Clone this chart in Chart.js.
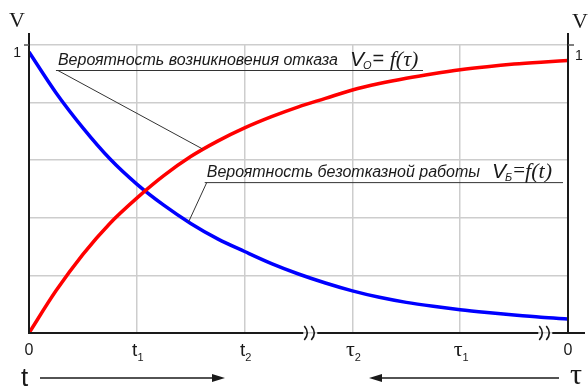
<!DOCTYPE html>
<html>
<head>
<meta charset="utf-8">
<script src="https://cdn.jsdelivr.net/npm/chart.js@4/dist/chart.umd.min.js"></script>
<style>
  html, body { margin: 0; padding: 0; background: #fff; }
  #wrap { width: 588px; height: 387px; }
</style>
</head>
<body>
<div id="wrap"><canvas id="c" width="588" height="387"></canvas></div>
<script>
// Time positions along the axis (grid units: 0, t1, t2, τ2, τ1, 0)
const positions = [0, 0.25, 0.5, 0.75, 1, 1.25, 1.5, 1.75, 2, 2.25, 2.5,
                   2.75, 3, 3.25, 3.5, 3.75, 4, 4.25, 4.5, 4.75, 5];
// Probability of failure-free operation V_Б = f(t)
const reliability = [1, 0.855, 0.73, 0.62, 0.53, 0.455, 0.39, 0.335, 0.29, 0.247, 0.21,
                     0.178, 0.15, 0.127, 0.109, 0.095, 0.083, 0.073, 0.064, 0.056, 0.05];
// Probability of failure occurrence V_O = f(τ)
const failure = [0, 0.15, 0.28, 0.39, 0.48, 0.56, 0.628, 0.683, 0.73, 0.77, 0.805,
                 0.835, 0.865, 0.888, 0.907, 0.923, 0.937, 0.948, 0.957, 0.964, 0.97];
// Axis tick labels: main symbol and subscript
const tickMain = ['0', 't', 't', 'τ', 'τ', '0'];
const tickSub = ['', '1', '2', '2', '1', ''];
const yTop = 1.025;
const gridValues = [0, 0.205, 0.41, 0.615, 0.82, 1.025];
const breakPoints = [2.6, 4.78];

const SANS = '"Liberation Sans", Arial, sans-serif';
const SERIF = '"Liberation Serif", "Times New Roman", serif';

function toXY(ys) { return positions.map((x, i) => ({ x: x, y: ys[i] })); }

const decorations = {
  id: 'decorations',
  afterDraw(chart) {
    const ctx = chart.ctx;
    const xs = chart.scales.x, ys = chart.scales.y;
    const a = chart.chartArea;
    const L = a.left, R = a.right, T = a.top, B = a.bottom;
    ctx.save();

    // vertical axes
    ctx.strokeStyle = '#1a1a1a';
    ctx.lineWidth = 2;
    ctx.beginPath();
    ctx.moveTo(L, T - 12); ctx.lineTo(L, B + 1);
    ctx.moveTo(R, T - 12); ctx.lineTo(R, B + 1);
    ctx.stroke();
    // small outward ticks at the top gridline
    ctx.lineWidth = 1.5;
    ctx.strokeStyle = '#555';
    ctx.beginPath();
    ctx.moveTo(L - 5, T); ctx.lineTo(L, T);
    ctx.moveTo(R, T); ctx.lineTo(R + 6, T);
    ctx.stroke();

    // bottom axis with break marks
    ctx.strokeStyle = '#1a1a1a';
    ctx.lineWidth = 2;
    const gaps = breakPoints.map(v => xs.getPixelForValue(v));
    let start = L - 1;
    ctx.beginPath();
    gaps.forEach(g => {
      ctx.moveTo(start, B); ctx.lineTo(g - 6, B);
      start = g + 8;
    });
    ctx.moveTo(start, B); ctx.lineTo(R + 17, B);
    ctx.stroke();
    ctx.lineWidth = 1.6;
    gaps.forEach(g => {
      [g - 5, g + 2].forEach(cx => {
        ctx.beginPath();
        ctx.moveTo(cx, B - 7);
        ctx.quadraticCurveTo(cx + 6, B, cx, B + 7);
        ctx.stroke();
      });
    });

    // x tick labels
    ctx.fillStyle = '#1a1a1a';
    ctx.textBaseline = 'alphabetic';
    for (let i = 0; i < tickMain.length; i++) {
      const px = xs.getPixelForValue(i);
      const isTau = tickMain[i] === 'τ';
      const isZero = tickMain[i] === '0';
      const mainFont = isTau ? ('22px ' + SERIF) : (isZero ? '16px ' : '19px ') + SANS;
      ctx.font = mainFont;
      const mw = ctx.measureText(tickMain[i]).width;
      ctx.font = '11px ' + SANS;
      const sw = tickSub[i] ? ctx.measureText(tickSub[i]).width : 0;
      const x0 = px - (mw + sw) / 2 + (tickSub[i] ? 1 : 0);
      ctx.font = mainFont;
      ctx.textAlign = 'left';
      ctx.fillText(tickMain[i], x0, B + (isZero ? 22 : 23));
      if (tickSub[i]) {
        ctx.font = '11px ' + SANS;
        ctx.fillText(tickSub[i], x0 + mw, B + 28);
      }
    }

    // direction arrows
    ctx.strokeStyle = '#1a1a1a';
    ctx.fillStyle = '#1a1a1a';
    ctx.lineWidth = 1.5;
    const ay = B + 45;
    ctx.beginPath(); ctx.moveTo(40, ay); ctx.lineTo(216, ay); ctx.stroke();
    ctx.beginPath(); ctx.moveTo(225, ay); ctx.lineTo(212, ay - 4); ctx.lineTo(212, ay + 4); ctx.closePath(); ctx.fill();
    ctx.beginPath(); ctx.moveTo(378, ay); ctx.lineTo(559, ay); ctx.stroke();
    ctx.beginPath(); ctx.moveTo(369, ay); ctx.lineTo(382, ay - 4); ctx.lineTo(382, ay + 4); ctx.closePath(); ctx.fill();
    ctx.font = '26px ' + SANS;
    ctx.textAlign = 'left';
    ctx.fillText('t', 21, ay + 8);
    ctx.font = '30px ' + SERIF;
    ctx.fillText('τ', 570, ay + 6);

    // axis titles and "1" labels
    ctx.font = '22px ' + SERIF;
    ctx.fillText('V', 9, 27);
    ctx.fillText('V', 572, 28);
    ctx.font = '14px ' + SANS;
    const y1 = ys.getPixelForValue(1);
    ctx.textAlign = 'right';
    ctx.fillText('1', 21, y1 + 5);
    ctx.textAlign = 'left';
    ctx.fillText('1', 575, y1 + 8);

    // annotations with leader lines
    const notes = [
      { text: 'Вероятность возникновения отказа', sub: 'O', eq: '= ', fn: 'f(τ)', eqSerif: false,
        at: { x: 0.25, y: 0.936 }, lineEnd: 423, target: { x: 1.61, y: 0.655 } },
      { text: 'Вероятность безотказной работы', sub: 'Б', eq: '=', fn: 'f(t)', eqSerif: true,
        at: { x: 1.63, y: 0.537 }, lineEnd: 563, target: { x: 1.48, y: 0.395 } }
    ];
    notes.forEach(n => {
      const ux = xs.getPixelForValue(n.at.x);
      const uy = ys.getPixelForValue(n.at.y);
      ctx.fillStyle = '#1a1a1a';
      ctx.textAlign = 'left';
      ctx.font = 'italic 16px ' + SANS;
      ctx.fillText(n.text, ux + 2, uy - 5);
      let cx = ux + 2 + ctx.measureText(n.text).width + 12;
      ctx.font = 'italic 21px ' + SANS;
      ctx.fillText('V', cx, uy - 4);
      cx += ctx.measureText('V').width - 1;
      ctx.font = 'italic 11px ' + SANS;
      ctx.fillText(n.sub, cx, uy - 1);
      cx += ctx.measureText(n.sub).width + 1;
      ctx.font = n.eqSerif ? ('21px ' + SERIF) : ('20px ' + SANS);
      ctx.fillText(n.eq, cx, uy - 5);
      cx += ctx.measureText(n.eq).width;
      ctx.font = 'italic 22px ' + SERIF;
      ctx.fillText(n.fn, cx, uy - 4);

      ctx.strokeStyle = '#333';
      ctx.lineWidth = 1;
      ctx.beginPath();
      ctx.moveTo(ux, uy + 0.5); ctx.lineTo(n.lineEnd, uy + 0.5);
      ctx.moveTo(ux + 2, uy + 0.5);
      ctx.lineTo(xs.getPixelForValue(n.target.x), ys.getPixelForValue(n.target.y));
      ctx.stroke();
    });

    ctx.restore();
  }
};

new Chart(document.getElementById('c'), {
  type: 'line',
  data: {
    datasets: [
      { label: 'V_O', data: toXY(failure), borderColor: '#ff0000', borderWidth: 3.5,
        pointRadius: 0, tension: 0.4, cubicInterpolationMode: 'monotone', fill: false },
      { label: 'V_Б', data: toXY(reliability), borderColor: '#0000ff', borderWidth: 3.5,
        pointRadius: 0, tension: 0.4, cubicInterpolationMode: 'monotone', fill: false }
    ]
  },
  options: {
    responsive: false,
    animation: false,
    devicePixelRatio: 1,
    layout: { padding: { left: 29, right: 20, top: 45, bottom: 54 } },
    plugins: { legend: { display: false }, tooltip: { enabled: false } },
    scales: {
      x: {
        type: 'linear', min: 0, max: 5,
        ticks: { stepSize: 1, display: false },
        grid: { color: '#cdcdcd', lineWidth: 1.5, drawTicks: false },
        border: { display: false }
      },
      y: {
        min: 0, max: yTop,
        afterBuildTicks: s => { s.ticks = gridValues.map(v => ({ value: v })); },
        ticks: { display: false },
        grid: { color: '#cdcdcd', lineWidth: 1.5, drawTicks: false },
        border: { display: false }
      }
    }
  },
  plugins: [decorations]
});
</script>
</body>
</html>
